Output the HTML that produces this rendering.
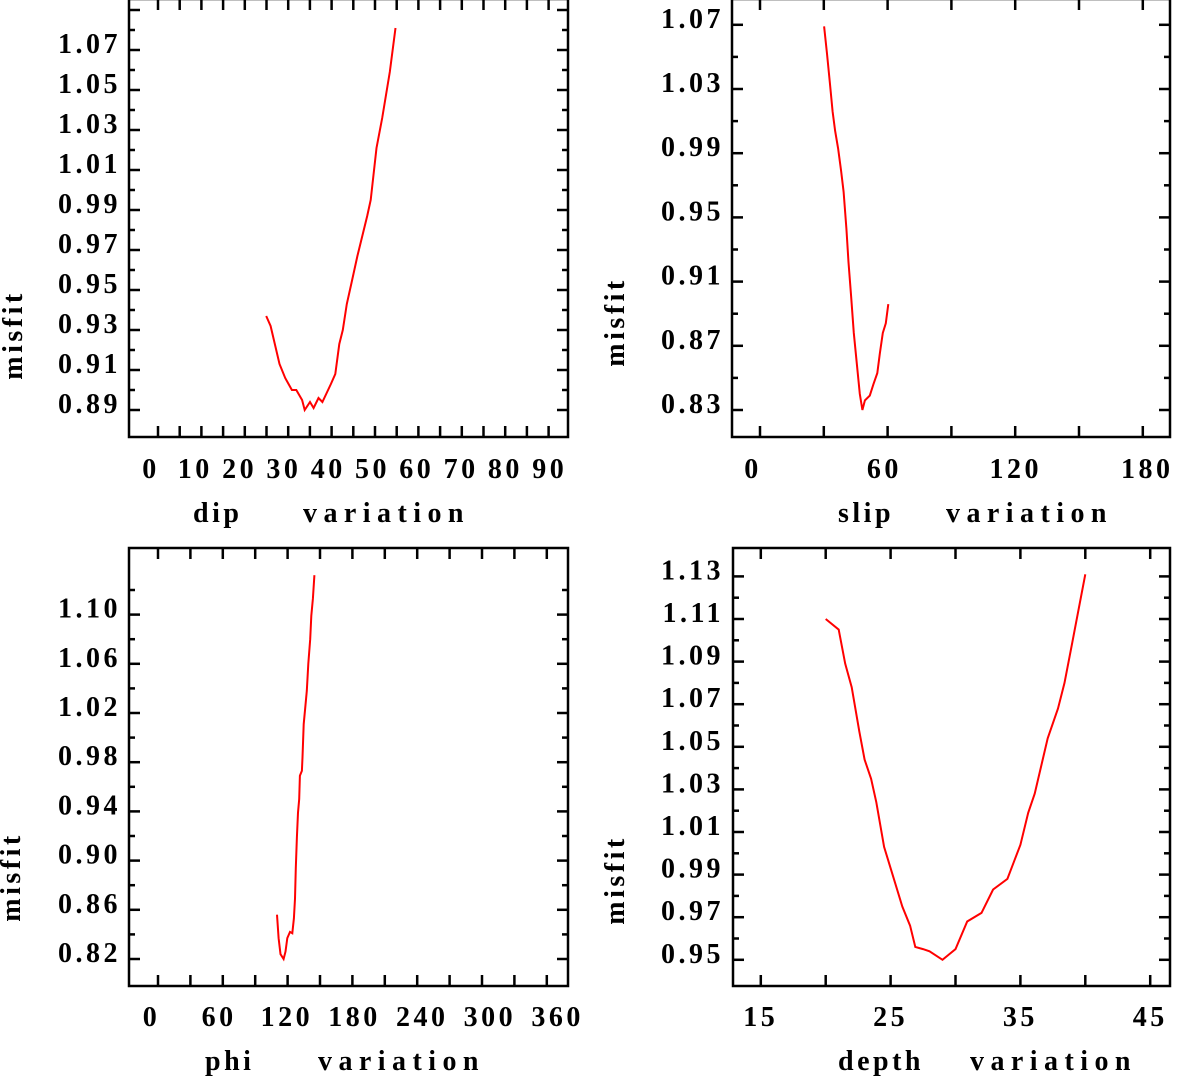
<!DOCTYPE html>
<html><head><meta charset="utf-8"><style>
html,body{margin:0;padding:0;background:#fff;}
svg{display:block;}
text{font-family:"Liberation Serif",serif;font-size:28px;fill:#000;letter-spacing:3.5px;font-weight:bold;white-space:pre;}
</style></head><body>
<svg id="chart" width="1183" height="1076" viewBox="0 0 1183 1076" xmlns="http://www.w3.org/2000/svg"></svg>
<script>
// ---- dip panel data ----
const dipX=[26,27,29,30.3,31.8,32.8,34.1,34.7,35.9,36.7,37.8,38.7,40.6,41.6,42.5,43.3,44.2,45.3,46.6,48.8,49.6,50.9,52.2,53.9,55.2];
const dipY=[0.937,0.932,0.913,0.906,0.900,0.900,0.895,0.890,0.894,0.891,0.896,0.894,0.903,0.908,0.923,0.930,0.943,0.954,0.967,0.987,0.995,1.021,1.036,1.059,1.081];
const dipXTicks=["0","10","20","30","40","50","60","70","80","90"];
const dipYTicks=["0.89","0.91","0.93","0.95","0.97","0.99","1.01","1.03","1.05","1.07"];
// ---- slip panel data ----
const slipX=[30.1,31.5,32.9,34.1,35.3,36.7,38.1,39.3,40.6,41.6,42.8,44.1,45.5,46.9,48.1,49.3,51.6,53.3,55.1,56.3,57.7,59.1,60.3];
const slipY=[1.069,1.052,1.033,1.016,1.004,0.993,0.979,0.966,0.943,0.922,0.901,0.878,0.859,0.840,0.830,0.836,0.839,0.846,0.853,0.865,0.878,0.884,0.896];
const slipXTicks=["0","60","120","180"];
const slipYTicks=["0.83","0.87","0.91","0.95","0.99","1.03","1.07"];
// ---- phi panel data ----
const phiX=[111.3,112.7,114.4,117.1,118.8,120.4,122.8,124.8,126.2,127.2,127.9,128.9,129.9,130.9,131.6,133.3,133.9,134.9,136.3,137.7,139,140.7,141.7,143.1,144.4];
const phiY=[0.856,0.837,0.824,0.820,0.826,0.837,0.842,0.841,0.853,0.869,0.894,0.919,0.939,0.950,0.969,0.973,0.984,1.011,1.024,1.038,1.060,1.080,1.099,1.113,1.132];
const phiXTicks=["0","60","120","180","240","300","360"];
const phiYTicks=["0.82","0.86","0.90","0.94","0.98","1.02","1.06","1.10"];
// ---- depth panel data ----
const depthX=[20,21,21.5,22,22.6,23,23.5,23.9,24.5,25,25.9,26.5,26.9,27.5,28,29,29.6,30,30.9,32,32.9,34,34.5,35,35.6,36.1,36.6,37.1,37.9,38.4,39,39.5,40];
const depthY=[1.110,1.105,1.089,1.078,1.057,1.044,1.035,1.024,1.003,0.993,0.975,0.966,0.956,0.955,0.954,0.950,0.953,0.955,0.968,0.972,0.983,0.988,0.996,1.004,1.019,1.028,1.041,1.054,1.068,1.080,1.099,1.115,1.131];
const depthXTicks=["15","25","35","45"];
const depthYTicks=["0.95","0.97","0.99","1.01","1.03","1.05","1.07","1.09","1.11","1.13"];

const NS="http://www.w3.org/2000/svg";
const svg=document.getElementById('chart');
function mk(tag,attrs,parent){const e=document.createElementNS(NS,tag);for(const k in attrs)e.setAttribute(k,attrs[k]);(parent||svg).appendChild(e);return e;}

function panel(cfg){
  const g=mk('g',{});
  
  
  const {L,R,T,B}=cfg;
  const xs=v=>cfg.x0+(v-cfg.xv0)*cfg.xk;
  const ys=v=>cfg.y0-(v-cfg.yv0)*cfg.yk;
  const fr=mk('rect',{x:L,y:T,width:R-L,height:B-T,fill:'none',stroke:'#000','stroke-width':2.5},g);
  
  
  for(let i=0;i<cfg.nxt;i++){
    const x=cfg.xt0+i*cfg.xtd;
    const t1=mk('line',{x1:x,x2:x,y1:B,y2:B-11,stroke:'#000','stroke-width':2.5},g);
    
    
    const t2=mk('line',{x1:x,x2:x,y1:T,y2:T+11,stroke:'#000','stroke-width':2.5},g);
    
    
  }
  for(let i=0;i<cfg.nyt;i++){
    const v=cfg.yv0+i*cfg.ystep;
    const y=ys(v);
    const len=(i%2===0)?11:6;
    const a=mk('line',{x1:L,x2:L+len,y1:y,y2:y,stroke:'#000','stroke-width':2.5},g);
    
    
    const b=mk('line',{x1:R,x2:R-len,y1:y,y2:y,stroke:'#000','stroke-width':2.5},g);
    
    
  }
  cfg.yl.forEach((s)=>{
    const t=mk('text',{x:cfg.ylx,y:ys(parseFloat(s))-7+10,'text-anchor':'end'},g);
    t.textContent=s;
    
    
  });
  cfg.xl.forEach((s)=>{
    const t=mk('text',{x:cfg.lx0+parseFloat(s)*cfg.lxk,y:cfg.xly,'text-anchor':'middle'},g);
    t.textContent=s;
    
    
  });
  const xt=mk('text',{x:cfg.tx,y:cfg.xly+44,'text-anchor':'start','letter-spacing':'5'},g);
  xt.textContent=cfg.word;
  
  
  const xt2=mk('text',{x:cfg.vx,y:cfg.xly+44,'text-anchor':'start',textLength:164,lengthAdjust:'spacing'},g);
  xt2.textContent='variation';
  
  
  const yt=mk('text',{x:0,y:0,transform:`translate(${cfg.mx},${cfg.my}) rotate(-90)`,'text-anchor':'middle','letter-spacing':'4'},g);
  yt.textContent='misfit';
  
  
  const pts=cfg.X.map((x,i)=>xs(x).toFixed(1)+','+ys(cfg.Y[i]).toFixed(1)).join(' ');
  const pl=mk('polyline',{points:pts,fill:'none',stroke:'#ff0000','stroke-width':2},g);
  
  
}

panel({name:'dip',L:129,R:568,T:-1,B:437,X:dipX,Y:dipY,
  x0:151,xv0:0,xk:4.43,y0:410,yv0:0.89,yk:2000,
  xt0:158,xtd:21.7,nxt:19,ystep:0.01,nyt:21,
  yl:dipYTicks,ylx:121,xl:dipXTicks,lx0:151,lxk:4.43,xly:478,
  word:'dip',tx:193,vx:303,mx:22,my:335});
panel({name:'slip',L:732,R:1170,T:-1,B:437,X:slipX,Y:slipY,
  x0:760,xv0:0,xk:2.128,y0:410,yv0:0.83,yk:1605,
  xt0:760,xtd:63.8,nxt:7,ystep:0.02,nyt:13,
  yl:slipYTicks,ylx:724,xl:slipXTicks,lx0:753,lxk:2.19,xly:478,
  word:'slip',tx:838,vx:946,mx:624,my:322});
panel({name:'phi',L:129,R:568,T:548,B:986,X:phiX,Y:phiY,
  x0:151.5,xv0:0,xk:1.128,y0:959,yv0:0.82,yk:1230,
  xt0:158,xtd:32.4,nxt:13,ystep:0.02,nyt:16,
  yl:phiYTicks,ylx:121,xl:phiXTicks,lx0:151.5,lxk:1.128,xly:1026,
  word:'phi',tx:205,vx:318,mx:20,my:877});
panel({name:'depth',L:733,R:1170,T:548,B:986,X:depthX,Y:depthY,
  x0:760.8,xv0:15,xk:12.98,y0:959.8,yv0:0.95,yk:2130,
  xt0:760.8,xtd:64.9,nxt:7,ystep:0.01,nyt:19,
  yl:depthYTicks,ylx:724,xl:depthXTicks,lx0:760.8-15*12.98,lxk:12.98,xly:1026,
  word:'depth',tx:838,vx:970,mx:624,my:880});
</script>
</body></html>
